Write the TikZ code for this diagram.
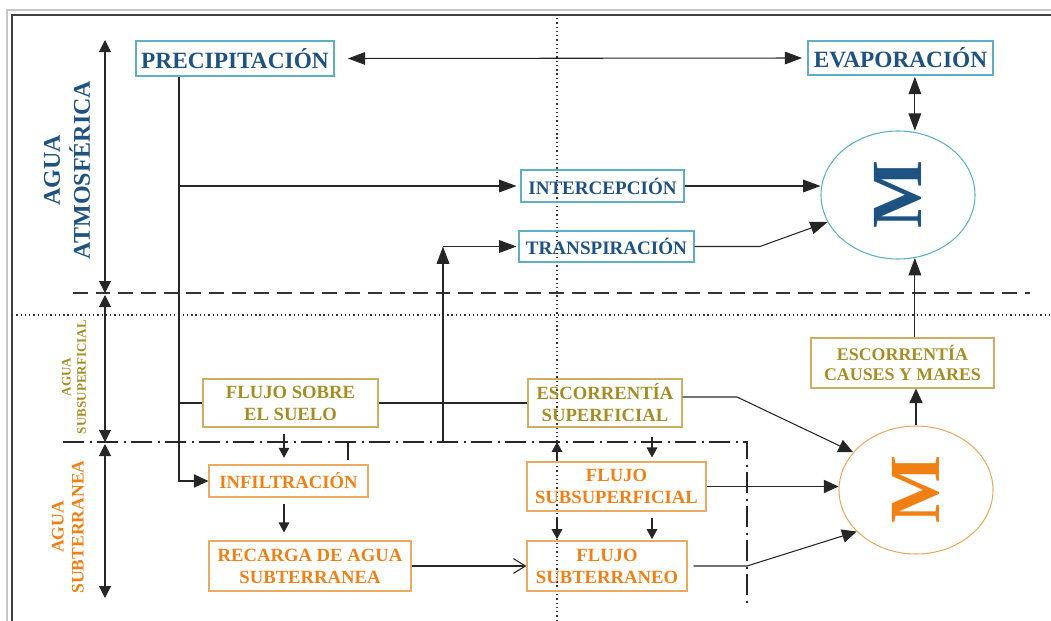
\documentclass[tikz,border=0pt]{standalone}
\usepackage{fontspec}
\setmainfont{Liberation Serif}
\usetikzlibrary{arrows.meta,shapes.geometric}

\definecolor{atmblue}{RGB}{30,82,128}
\definecolor{atmline}{RGB}{95,175,195}
\definecolor{olivetxt}{RGB}{165,140,35}
\definecolor{oliveline}{RGB}{205,175,100}
\definecolor{orangetxt}{RGB}{240,128,20}
\definecolor{orangeline}{RGB}{235,170,100}

\tikzset{
  dim/.style 2 args={minimum width=#1*0.75pt, minimum height=#2*0.75pt},
  boxbase/.style={inner sep=0pt, align=center, line width=0.8pt},
  bluebox/.style={boxbase, draw=atmline, text=atmblue},
  olivebox/.style={boxbase, draw=oliveline, text=olivetxt},
  orangebox/.style={boxbase, draw=orangeline, text=orangetxt},
  bigfont/.style={font={\fontsize{17.5}{21}\selectfont\bfseries}},
  midfont/.style={font={\fontsize{14.3}{17}\selectfont\bfseries}},
  twofont/.style={font={\fontsize{14}{16.5}\selectfont\bfseries}},
  causfont/.style={font={\fontsize{13.4}{15.5}\selectfont\bfseries}},
  sidelabel/.style={inner sep=0pt, align=center, rotate=90},
  balance/.style={ellipse, line width=0.8pt, inner sep=0pt, dim={154}{128}},
  flow/.style={line width=0.8pt, draw=black!85},
  bigtip/.style={-{Triangle[length=13pt,width=9.5pt]}},
  bigboth/.style={{Triangle[length=13pt,width=9.5pt]}-{Triangle[length=13pt,width=9.5pt]}},
  midtip/.style={-{Triangle[length=11pt,width=10pt]}},
  midboth/.style={{Triangle[length=9pt,width=9pt]}-{Triangle[length=9pt,width=9pt]}},
  smalltip/.style={-{Triangle[length=7.5pt,width=8pt]}},
  opentip/.style={-{Straight Barb[length=9pt,width=11pt]}}
}

\begin{document}
\begin{tikzpicture}[x=0.75pt,y=-0.75pt]
\useasboundingbox (0,0) rectangle (1051,621);

% page frame
\draw[line width=1.6pt, draw=black!22] (7,621) -- (7,10) -- (1051,10);
\draw[line width=1pt, draw=black!75] (12,621) -- (12,15) -- (1051,15);

% zone separators
\draw[line width=0.8pt, draw=black!80, dash pattern=on 1pt off 2.2pt] (12,315) -- (1051,315);
\draw[line width=0.8pt, draw=black!80, dash pattern=on 1pt off 2.2pt] (557,18) -- (557,621);
\draw[line width=1.5pt, draw=black!80, dash pattern=on 11pt off 6pt] (73,293) -- (1030,293);
\coordinate (dd) at (63,442);
\coordinate (ddc) at (747,442);
\coordinate (dde) at (747,607);
\draw[line width=1.1pt, draw=black!85, dash pattern=on 16pt off 4pt on 1.5pt off 4pt] (dd) -- (ddc) -- (dde);

% zone arrows on the left
\coordinate (la0) at (105,40);
\coordinate (la1) at (105,293);
\coordinate (la1b) at (105,295);
\coordinate (la2) at (105,442);
\coordinate (la2b) at (105,444);
\coordinate (la3) at (105,598);
\draw[flow, midboth] (la0) -- (la1);
\draw[flow, midboth] (la1b) -- (la2);
\draw[flow, midboth] (la2b) -- (la3);

% zone labels
\node[sidelabel, text=atmblue, font={\fontsize{18}{22.5}\selectfont\bfseries}] (zatm) at (67,170) {AGUA\\ATMOSFÉRICA};
\node[sidelabel, text=olivetxt, font={\fontsize{9.8}{11.3}\selectfont\bfseries}] (zsub) at (74,377) {AGUA\\SUBSUPERFICIAL};
\node[sidelabel, text=orangetxt, font={\fontsize{13.2}{15}\selectfont\bfseries}] (zter) at (68,527) {AGUA\\SUBTERRANEA};

% atmospheric boxes
\node[bluebox, bigfont, dim={198}{35}] (prec) at (235,58.5) {PRECIPITACIÓN};
\node[bluebox, bigfont, dim={185}{34}] (evap) at (900.5,58) {EVAPORACIÓN};
\node[bluebox, midfont, dim={163}{32}] (interc) at (602.5,186) {INTERCEPCIÓN};
\node[bluebox, midfont, dim={175}{31}] (transp) at (606.5,246.5) {TRANSPIRACIÓN};
\node[balance, draw=atmline, text=atmblue] (Mtop) at (898,195)
  {\rotatebox{90}{\fontsize{54}{54}\selectfont\bfseries M}};

% surface and ground boxes
\node[olivebox, twofont, dim={175}{48}] (sobre) at (290.5,403) {FLUJO SOBRE\\EL SUELO};
\node[olivebox, twofont, dim={154}{48}] (escsup) at (605,403) {ESCORRENTÍA\\SUPERFICIAL};
\node[olivebox, causfont, dim={183}{50}] (causes) at (902.5,363) {ESCORRENTÍA\\CAUSES Y MARES};
\node[orangebox, twofont, dim={159}{32}] (infil) at (288.5,481) {INFILTRACIÓN};
\node[orangebox, twofont, dim={179}{49}] (subsup) at (616.5,486.5) {FLUJO\\SUBSUPERFICIAL};
\node[orangebox, twofont, dim={202}{50}] (recarga) at (310,566) {RECARGA DE AGUA\\SUBTERRANEA};
\node[orangebox, twofont, dim={160}{50}] (subterr) at (607,566) {FLUJO\\SUBTERRANEO};
\node[balance, draw=orangeline, text=orangetxt] (Mbot) at (916,490)
  {\rotatebox{90}{\fontsize{54}{54}\selectfont\bfseries M}};

% precipitation trunk and its branches
\coordinate (xp) at (179,0);
\draw[flow, midtip] (prec.south -| xp) -- (xp |- infil.west) -- (infil.west);
\draw[flow, bigtip, shorten >=3pt] (xp |- interc.west) -- (interc.west);
\draw[flow] (xp |- sobre.west) -- (sobre.west);
\draw[flow] (sobre.east) -- (escsup.west);

% transpiration feed
\coordinate (tr0) at (443,442);
\draw[flow, bigtip] (tr0) -- (tr0 |- transp.west);
\draw[flow, bigtip, shorten >=1.5pt] (tr0 |- transp.west) -- (transp.west);

% atmospheric exchanges
\draw[flow, bigboth, shorten <=10pt, shorten >=4pt] (prec.east) -- (evap.west);
\draw[flow, bigboth, shorten <=1pt, shorten >=1pt] (Mtop.75 |- evap.south) -- (Mtop.75);
\draw[flow, bigtip] (interc.east) -- (interc.east -| Mtop.west);
\coordinate (tb) at (760,0);
\draw[flow, bigtip] (transp.east) -- (tb |- transp.east) -- (Mtop.201);

% towards the lower balance
\coordinate (e1) at ([yshift=4.5pt]escsup.east);
\coordinate (eb) at (737,0);
\draw[flow, midtip] (e1) -- (eb |- e1) -- (Mbot.149);
\draw[flow, midtip] (subsup.east) -- (subsup.east -| Mbot.west);
\coordinate (sb) at (747,0);
\draw[flow, midtip, shorten <=4.5pt] (subterr.east) -- (sb |- subterr.east) -- (Mbot.215);
\draw[flow, midtip] (Mbot.north) -- (Mbot.north |- causes.south);
\draw[flow, bigtip] (Mtop.-75 |- causes.north) -- (Mtop.-75);

% vertical exchanges between the boxes
\coordinate (xa) at (284,0);
\coordinate (xb) at (348,0);
\coordinate (xc) at (557,0);
\coordinate (xd) at (652,0);
\draw[flow, smalltip, shorten <=4.5pt, shorten >=5pt] (sobre.south -| xa) -- (infil.north -| xa);
\draw[flow, smalltip, shorten <=4.5pt, shorten >=6pt] (infil.south -| xa) -- (recarga.north -| xa);
\draw[flow, shorten <=3pt] (infil.north -| xb) -- (xb |- dd);
\draw[flow, smalltip] (subsup.north -| xc) -- (xc |- dd);
\draw[flow, smalltip, shorten <=7pt, shorten >=3pt] (escsup.south -| xd) -- (subsup.north -| xd);
\draw[flow, smalltip, shorten <=4.5pt, shorten >=1pt] (subsup.south -| xc) -- (subterr.north -| xc);
\draw[flow, smalltip, shorten <=4.5pt, shorten >=1pt] (subsup.south -| xd) -- (subterr.north -| xd);
\draw[flow, opentip] (recarga.east) -- (recarga.east -| subterr.west);
\end{tikzpicture}
\end{document}
